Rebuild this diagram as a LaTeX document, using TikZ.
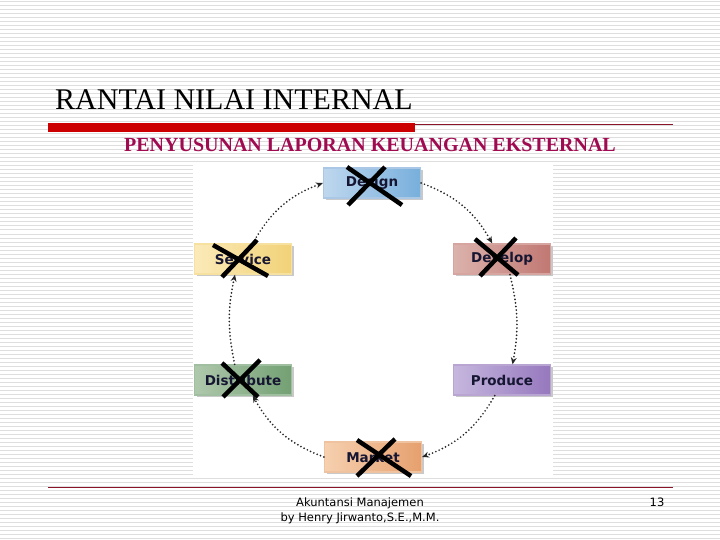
\documentclass[tikz,border=0pt]{standalone}
\usepackage{fontspec}
\setmainfont{Liberation Serif}
\newfontfamily\stagefont{DejaVu Sans}
\newfontfamily\footfont{DejaVu Sans}
\usetikzlibrary{arrows.meta,shadows}
\definecolor{barred}{RGB}{204,0,0}
\definecolor{linered}{RGB}{140,20,40}
\definecolor{subred}{RGB}{160,10,80}
\definecolor{bgline}{RGB}{222,222,222}
\definecolor{stagetext}{RGB}{22,22,50}
\tikzset{
  stage/.style={minimum width=97pt,minimum height=30pt,inner sep=0pt,line width=1.3pt,
    font=\stagefont\bfseries\fontsize{13.5}{13.5}\selectfont,text=stagetext,
    drop shadow={shadow xshift=2pt,shadow yshift=-2pt,opacity=0.35,fill=black!60}},
  flow/.style={black!85,line width=1.9pt,line cap=round,dash pattern=on 0pt off 3.6pt,
    -{Stealth[length=7pt,width=6pt,line width=0pt]}},
  xmark/.style={black,line width=4.5pt}
}
\begin{document}
\begin{tikzpicture}[x=1pt,y=-1pt]
   \useasboundingbox (0,0) rectangle (720,540);
   \fill [white] (0,0) rectangle (720,540);
   \foreach \y in {2,6,...,538}
     \draw [bgline,line width=1pt] (0,\y) -- (720,\y);
   \node [anchor=base west,inner sep=0pt,font=\fontsize{30}{30}\selectfont] (title) at (55,110) {RANTAI NILAI INTERNAL};
   \draw [linered,line width=0.8pt] (415,124) -- (673,124);
   \fill [barred] (48,123) rectangle (415,132);
   \node [anchor=base,inner sep=0pt,text=subred,font=\bfseries\fontsize{20}{20}\selectfont] (subtitle) at (370,152) {PENYUSUNAN LAPORAN KEUANGAN EKSTERNAL};
   \fill [white] (193,165) rectangle (553,476);
   \node [stage,draw={rgb,255:red,170;green,200;blue,230},left color={rgb,255:red,190;green,215;blue,238},right color={rgb,255:red,120;green,175;blue,220}] (design) at (372,183) {Design};
   \node [stage,draw={rgb,255:red,246;green,225;blue,160},left color={rgb,255:red,251;green,234;blue,185},right color={rgb,255:red,242;green,210;blue,120}] (service) at (243,259) {Service};
   \node [stage,draw={rgb,255:red,215;green,165;blue,160},left color={rgb,255:red,220;green,178;blue,172},right color={rgb,255:red,193;green,120;blue,115}] (develop) at (502,259) {Develop};
   \node [stage,draw={rgb,255:red,160;green,190;blue,160},left color={rgb,255:red,175;green,200;blue,172},right color={rgb,255:red,115;green,160;blue,115}] (distribute) at (243,380) {Distribute};
   \node [stage,draw={rgb,255:red,185;green,165;blue,210},left color={rgb,255:red,198;green,183;blue,222},right color={rgb,255:red,150;green,120;blue,190}] (produce) at (502,380) {Produce};
   \node [stage,draw={rgb,255:red,240;green,195;blue,160},left color={rgb,255:red,246;green,208;blue,175},right color={rgb,255:red,230;green,160;blue,110}] (market) at (373,457) {Market};
   \draw [flow] (design.east) to [bend left=20] (develop.122);
   \draw [flow] (develop.-63) to [bend left=12] (produce.56);
   \draw [flow] (produce.-115) to [bend left=20] (market.east);
   \draw [flow] (market.west) to [bend left=20] (distribute.-58);
   \draw [flow] (distribute.118) to [bend left=12] (service.-117);
   \draw [flow] (service.58) to [bend left=20] (design.west);
   \draw [xmark] ([shift={(-25,-16)}]design.center) -- ([shift={(30,22)}]design.center);
   \draw [xmark] ([shift={(13,-16)}]design.center) -- ([shift={(-24,22)}]design.center);
   \draw [xmark] ([shift={(-30,-14)}]service.center) -- ([shift={(25,17)}]service.center);
   \draw [xmark] ([shift={(14,-19)}]service.center) -- ([shift={(-21,18)}]service.center);
   \draw [xmark] ([shift={(-27,-20)}]develop.center) -- ([shift={(16,16)}]develop.center);
   \draw [xmark] ([shift={(14,-21)}]develop.center) -- ([shift={(-22,17)}]develop.center);
   \draw [xmark] ([shift={(-21,-17)}]distribute.center) -- ([shift={(15,17)}]distribute.center);
   \draw [xmark] ([shift={(17,-20)}]distribute.center) -- ([shift={(-20,17)}]distribute.center);
   \draw [xmark] ([shift={(-16,-17)}]market.center) -- ([shift={(38,19)}]market.center);
   \draw [xmark] ([shift={(22,-18)}]market.center) -- ([shift={(-16,19)}]market.center);
   \draw [linered,line width=0.8pt] (48,487) -- (673,487);
   \node [anchor=base,inner sep=0pt,font=\footfont\fontsize{11.5}{11.5}\selectfont] (course) at (360,506) {Akuntansi Manajemen};
   \node [anchor=base,inner sep=0pt,font=\footfont\fontsize{11.5}{11.5}\selectfont] (author) at (360,521) {by Henry Jirwanto,S.E.,M.M.};
   \node [anchor=base,inner sep=0pt,font=\footfont\fontsize{11.5}{11.5}\selectfont] (page) at (657,506) {13};
\end{tikzpicture}
\end{document}
